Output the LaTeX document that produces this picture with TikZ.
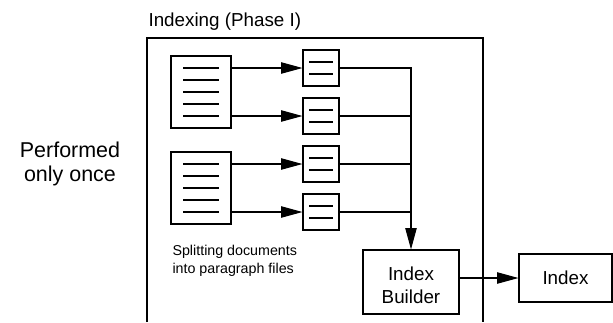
\documentclass[tikz,border=0pt]{standalone}
\usepackage{fontspec}
\setmainfont{Liberation Sans}
\usetikzlibrary{arrows.meta}
\begin{document}
\begin{tikzpicture}[x=0.75pt, y=-0.75pt,
  every path/.style={line width=0.8pt},
  docbox/.style={draw, minimum width=45pt, minimum height=54pt, inner sep=0pt},
  parbox/.style={draw, minimum width=27pt, minimum height=27pt, inner sep=0pt},
  procbox/.style={draw, minimum width=72pt, minimum height=48pt, inner sep=0pt},
  proctext/.style={align=center, inner sep=0pt, font=\fontsize{14.1}{17.4}\selectfont},
  outbox/.style={draw, minimum width=69.75pt, minimum height=36pt, inner sep=0pt,
    font=\fontsize{14.1}{17}\selectfont},
  flow/.style={-{Triangle[length=16pt, width=8.5pt]}}]
\useasboundingbox (0,0) rectangle (613,322);

% frame of the indexing phase (open at the bottom)
\draw (147,322) -- (147,38) -- (483,38) -- (483,322);
\node[anchor=base west, font=\fontsize{14.1}{17}\selectfont, inner sep=0pt]
  (phase) at (148,26.5) {Indexing (Phase I)};

% left caption (base anchor sits on the last line)
\node[align=center, font=\fontsize{16.1}{17.5}\selectfont, inner sep=0pt,
  anchor=base] (once) at (70,181) {Performed\\only once};

% source documents
\node[docbox] (doc1) at (201,92) {};
\node[docbox] (doc2) at (201,188) {};
\foreach \d in {doc1,doc2}
  \foreach \k in {-24,-12,0,12,24}
    \draw ([shift={(-18,\k)}]\d.center) -- ([shift={(18,\k)}]\d.center);

% paragraph files
\node[parbox] (p1) at (321,68) {};
\node[parbox] (p2) at (321,116) {};
\node[parbox] (p3) at (321,164) {};
\node[parbox] (p4) at (321,212) {};
\foreach \p in {p1,p2,p3,p4}
  \foreach \k in {-6,6}
    \draw ([shift={(-12,\k)}]\p.center) -- ([shift={(12,\k)}]\p.center);

\node[anchor=base west, align=left, inner sep=0pt,
  font=\fontsize{10.7}{12.8}\selectfont] (split) at (172,273)
  {Splitting documents\\into paragraph files};

% index builder and index
\node[procbox] (ib) at (411,282) {};
\node[proctext] (ibtext) at (411,285) {Index\\Builder};
\node[outbox] (idx) at (565.5,278) {Index};

% splitting arrows
\draw[flow] (doc1.east |- p1.west) -- (p1.west);
\draw[flow] (doc1.east |- p2.west) -- (p2.west);
\draw[flow] (doc2.east |- p3.west) -- (p3.west);
\draw[flow] (doc2.east |- p4.west) -- (p4.west);

% paragraph files collected into the index builder
\draw[flow] (p1.east) -| (ib.north);
\draw (p2.east) -- (p2.east -| ib.north);
\draw (p3.east) -- (p3.east -| ib.north);
\draw (p4.east) -- (p4.east -| ib.north);

% builder output
\draw[flow] (ib.east |- idx.west) -- (idx.west);
\end{tikzpicture}
\end{document}
